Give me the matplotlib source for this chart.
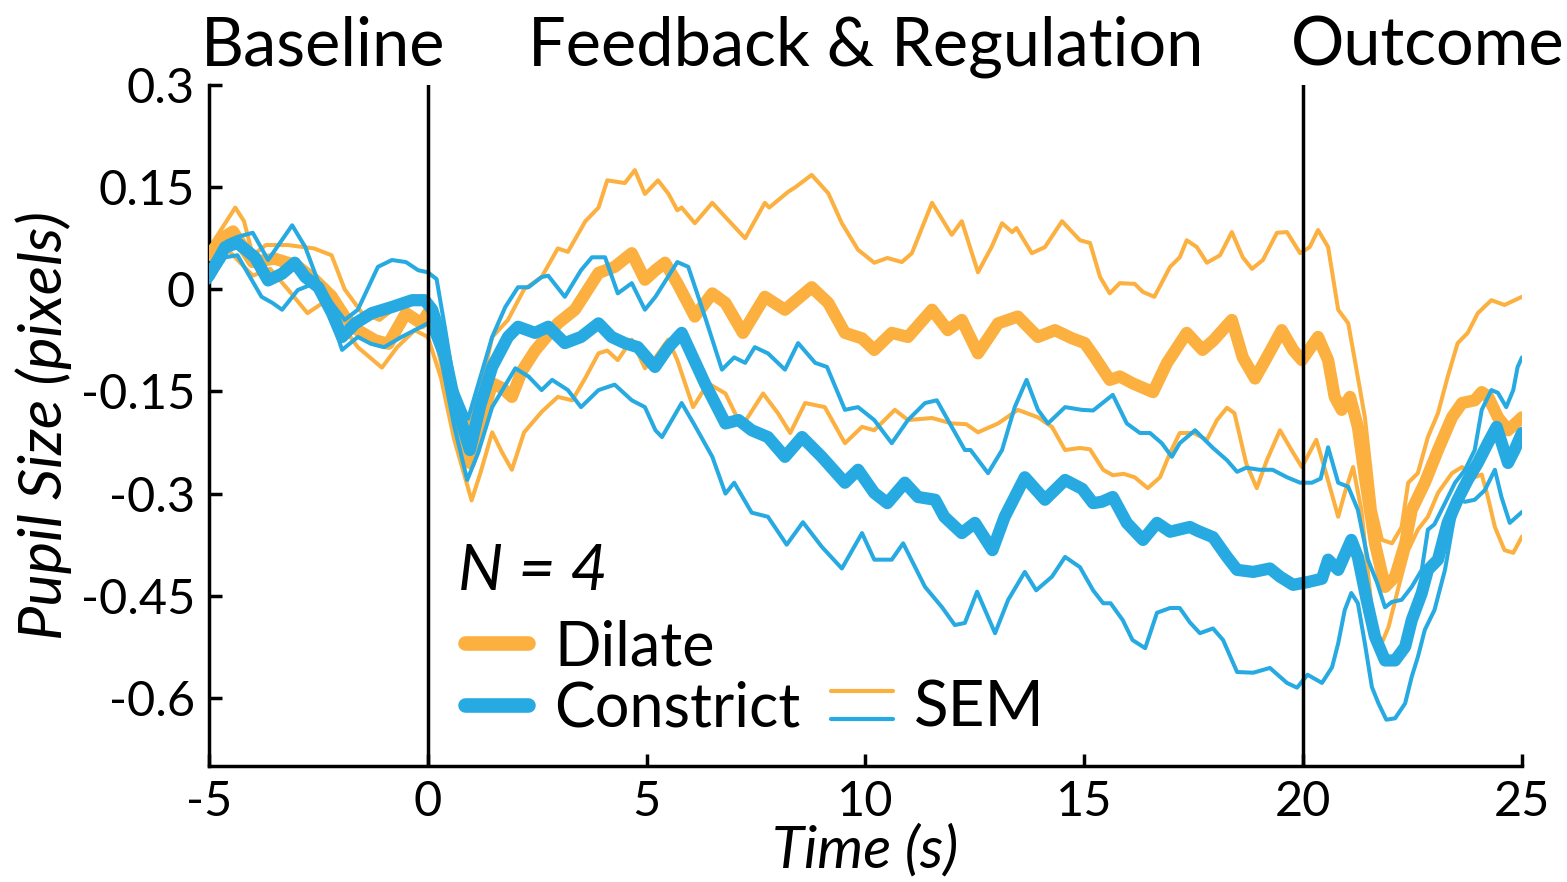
import matplotlib
matplotlib.use('Agg')
import matplotlib.pyplot as plt
from matplotlib.lines import Line2D

plt.rcParams['font.family'] = ['Lato', 'DejaVu Sans']

ORANGE = '#FBB040'
BLUE = '#27AAE1'

# ---------------- data (time in s, pupil size in pixels) ----------------
t_dil_up = [-5, -4.7, -4.4, -4.2, -4.0, -3.7, -3.2, -2.6, -2.2, -1.9, -1.5, -1.1, -0.5, -0.2, 0,
            0.3, 0.6, 0.92, 1.2, 1.47, 1.83, 2.2, 2.6, 2.97, 3.2, 3.6, 3.9, 4.1, 4.5, 4.73, 4.96,
            5.26, 5.5, 5.7, 5.8, 6.1, 6.5, 6.8, 7.25, 7.7, 7.8, 8.23, 8.4, 8.77, 9.15, 9.46, 9.83,
            10.2, 10.5, 10.83, 11.06, 11.52, 11.97, 12.2, 12.57, 12.88, 13.12, 13.35, 13.45, 13.8,
            14.1, 14.49, 14.9, 15.13, 15.36, 15.58, 15.81, 16.15, 16.34, 16.6, 16.96, 17.18, 17.34,
            17.57, 17.8, 18.1, 18.37, 18.62, 18.83, 19.08, 19.4, 19.63, 19.93, 20.15, 20.34, 20.57,
            20.8, 21.03, 21.18, 21.41, 21.64, 21.8, 22.03, 22.25, 22.4, 22.62, 22.85, 23.08, 23.3,
            23.53, 23.76, 23.99, 24.3, 24.6, 25]
dil_up = [0.06, 0.09, 0.12, 0.10, 0.05, 0.065, 0.065, 0.06, 0.05, 0.0, -0.035, -0.045, -0.015, -0.02, -0.025,
          -0.06, -0.14, -0.20, -0.15, -0.07, -0.045, 0.0, 0.018, 0.06, 0.055, 0.10, 0.12, 0.16, 0.156, 0.175, 0.14,
          0.16, 0.14, 0.116, 0.12, 0.097, 0.127, 0.106, 0.075, 0.127, 0.12, 0.143, 0.15, 0.168, 0.141, 0.097, 0.058,
          0.039, 0.046, 0.04, 0.053, 0.127, 0.08, 0.10, 0.025, 0.062, 0.097, 0.084, 0.09, 0.053,
          0.062, 0.10, 0.072, 0.068, 0.018, -0.006, 0.009, 0.008, -0.004, -0.011, 0.033, 0.047, 0.072,
          0.062, 0.039, 0.05, 0.084, 0.047, 0.03, 0.043, 0.083, 0.084, 0.053, 0.062, 0.087, 0.062,
          -0.03, -0.05, -0.104, -0.188, -0.324, -0.368, -0.373, -0.349, -0.284, -0.27, -0.217, -0.182, -0.129,
          -0.079, -0.064, -0.035, -0.016, -0.023, -0.011]

t_dil_mean = [-5, -4.7, -4.45, -4.0, -3.5, -3.0, -2.6, -2.2, -1.9, -1.6, -1.2, -0.9, -0.5, -0.15, 0,
              0.3, 0.6, 0.96, 1.2, 1.47, 1.7, 1.92, 2.15, 2.45, 2.97, 3.36, 3.9, 4.27, 4.66, 4.96, 5.2,
              5.42, 5.7, 6.1, 6.5, 6.8, 7.2, 7.7, 8.16, 8.77, 9.15, 9.53, 9.92, 10.2, 10.6, 10.97,
              11.52, 11.88, 12.2, 12.57, 13.03, 13.48, 13.94, 14.33, 14.72, 15.01, 15.24, 15.58, 15.81,
              16.1, 16.57, 16.89, 17.34, 17.7, 17.95, 18.37, 18.62, 18.9, 19.17, 19.51, 19.77, 19.97,
              20.34, 20.57, 20.72, 20.88, 21.07, 21.25, 21.41, 21.64, 21.87, 22.1, 22.33, 22.48, 22.78,
              23.08, 23.4, 23.63, 23.92, 24.08, 24.22, 24.45, 24.68, 25]
dil_mean = [0.05, 0.075, 0.085, 0.04, 0.045, 0.035, 0.015, -0.01, -0.04, -0.06, -0.075, -0.08, -0.035, -0.05, -0.035,
            -0.08, -0.17, -0.255, -0.2, -0.138, -0.145, -0.158, -0.12, -0.09, -0.05, -0.03, 0.024, 0.033, 0.053, 0.014, 0.028,
            0.039, 0.009, -0.04, -0.006, -0.02, -0.064, -0.011, -0.03, 0.003, -0.02, -0.064, -0.072, -0.089, -0.064, -0.07,
            -0.03, -0.06, -0.045, -0.094, -0.05, -0.04, -0.07, -0.06, -0.072, -0.079, -0.10, -0.133, -0.128,
            -0.138, -0.151, -0.108, -0.064, -0.089, -0.075, -0.045, -0.10, -0.131, -0.10, -0.06, -0.089, -0.104,
            -0.07, -0.104, -0.158, -0.177, -0.158, -0.202, -0.276, -0.373, -0.437, -0.422, -0.373, -0.324, -0.284,
            -0.236, -0.188, -0.167, -0.163, -0.151, -0.157, -0.188, -0.207, -0.188]

t_dil_lo = [-5, -4.6, -4.3, -4.0, -3.6, -3.2, -2.75, -2.4, -2.0, -1.6, -1.05, -0.7, -0.3, 0,
            0.3, 0.6, 1.0, 1.2, 1.47, 1.7, 1.92, 2.2, 2.6, 2.97, 3.3, 3.6, 3.9, 4.1, 4.34, 4.66, 4.96,
            5.2, 5.49, 5.7, 6.06, 6.4, 6.8, 7.17, 7.66, 8.0, 8.28, 8.62, 9.07, 9.53, 9.92, 10.2, 10.67,
            10.97, 11.52, 11.97, 12.3, 12.57, 13.03, 13.48, 13.94, 14.26, 14.56, 14.9, 15.13, 15.43, 15.65,
            15.9, 16.15, 16.45, 16.73, 16.96, 17.18, 17.5, 17.8, 18.03, 18.26, 18.43, 18.7, 18.94, 19.17,
            19.47, 19.77, 19.97, 20.3, 20.5, 20.8, 20.95, 21.14, 21.33, 21.57, 21.76, 21.95, 22.18, 22.4,
            22.62, 22.85, 23.08, 23.4, 23.63, 23.92, 24.08, 24.22, 24.38, 24.6, 24.8, 25]
dil_lo = [0.04, 0.06, 0.04, 0.02, 0.03, 0.0, -0.035, -0.02, -0.05, -0.085, -0.115, -0.085, -0.06, -0.07,
          -0.13, -0.22, -0.31, -0.27, -0.21, -0.24, -0.265, -0.21, -0.18, -0.158, -0.163, -0.13, -0.094, -0.09, -0.104, -0.074, -0.116,
          -0.10, -0.074, -0.104, -0.173, -0.138, -0.153, -0.202, -0.153, -0.182, -0.211, -0.167, -0.173, -0.226, -0.202, -0.207, -0.177,
          -0.192, -0.189, -0.197, -0.198, -0.21, -0.197, -0.177, -0.188, -0.202, -0.236, -0.233, -0.235, -0.265, -0.273,
          -0.271, -0.276, -0.292, -0.276, -0.24, -0.211, -0.211, -0.221, -0.192, -0.174, -0.182, -0.256, -0.292, -0.251,
          -0.207, -0.24, -0.261, -0.221, -0.265, -0.334, -0.299, -0.261, -0.324, -0.471, -0.525, -0.496, -0.437, -0.383,
          -0.353, -0.334, -0.299, -0.27, -0.261, -0.276, -0.272, -0.305, -0.349, -0.383, -0.387, -0.363]

t_con_up = [-5, -4.6, -4.35, -4.0, -3.65, -3.1, -2.8, -2.5, -2.2, -1.9, -1.6, -1.14, -0.82, -0.5, -0.22, 0,
            0.2, 0.4, 0.6, 0.92, 1.15, 1.47, 1.77, 2.06, 2.3, 2.6, 2.75, 3.13, 3.5, 3.75, 4.05, 4.34, 4.66,
            4.96, 5.2, 5.7, 5.95, 6.33, 6.72, 7.0, 7.25, 7.47, 7.77, 8.16, 8.46, 8.85, 9.12, 9.53, 9.83,
            10.2, 10.6, 10.97, 11.36, 11.63, 11.97, 12.27, 12.4, 12.8, 13.12, 13.41, 13.68, 13.94, 14.17,
            14.56, 14.94, 15.2, 15.65, 15.97, 16.27, 16.5, 16.77, 17.0, 17.18, 17.53, 17.94, 18.26, 18.49,
            18.7, 19.0, 19.3, 19.63, 19.93, 20.2, 20.4, 20.57, 20.8, 21.03, 21.25, 21.48, 21.69, 21.87,
            22.03, 22.25, 22.48, 22.71, 22.85, 23.0, 23.24, 23.47, 23.7, 23.92, 24.08, 24.3, 24.45, 24.64,
            24.8, 24.9, 25]
con_up = [0.03, 0.07, 0.077, 0.083, 0.043, 0.094, 0.062, 0.01, -0.02, -0.045, -0.03, 0.033, 0.043, 0.04, 0.028, 0.025,
          0.015, -0.06, -0.14, -0.19, -0.14, -0.07, -0.026, 0.003, 0.003, 0.018, 0.02, -0.011, 0.028, 0.047, 0.047, -0.006, 0.009,
          -0.03, -0.011, 0.04, 0.033, -0.04, -0.118, -0.10, -0.108, -0.085, -0.094, -0.118, -0.079, -0.108, -0.114, -0.177, -0.173,
          -0.192, -0.226, -0.192, -0.167, -0.163, -0.202, -0.236, -0.236, -0.27, -0.236, -0.173, -0.133, -0.177, -0.197,
          -0.173, -0.177, -0.178, -0.155, -0.197, -0.211, -0.211, -0.226, -0.246, -0.226, -0.207, -0.233, -0.251, -0.268,
          -0.262, -0.265, -0.265, -0.276, -0.284, -0.284, -0.278, -0.232, -0.284, -0.29, -0.324, -0.397, -0.431, -0.467,
          -0.459, -0.456, -0.437, -0.412, -0.353, -0.345, -0.314, -0.284, -0.265, -0.236, -0.177, -0.148, -0.152, -0.173,
          -0.148, -0.114, -0.10]

t_con_mean = [-5, -4.63, -4.35, -3.95, -3.65, -3.33, -3.04, -2.8, -2.5, -2.19, -1.96, -1.66, -1.28, -0.82, -0.36, -0.07,
              0.1, 0.3, 0.6, 0.96, 1.2, 1.47, 1.83, 2.06, 2.45, 2.75, 3.13, 3.5, 3.9, 4.2, 4.5, 4.8, 5.19, 5.5,
              5.8, 6.33, 6.8, 7.1, 7.4, 7.77, 8.16, 8.55, 9.0, 9.53, 9.83, 10.2, 10.5, 10.9, 11.2, 11.59, 11.8,
              12.2, 12.5, 12.9, 13.18, 13.64, 14.1, 14.56, 14.95, 15.2, 15.4, 15.65, 15.97, 16.34, 16.66, 16.96,
              17.41, 17.6, 17.94, 18.26, 18.49, 18.86, 19.24, 19.47, 19.77, 20.1, 20.43, 20.57, 20.8, 21.1, 21.25,
              21.45, 21.64, 21.87, 22.1, 22.33, 22.48, 22.71, 22.85, 23.08, 23.3, 23.53, 23.76, 23.99, 24.22,
              24.42, 24.68, 24.83, 25]
con_mean = [0.02, 0.062, 0.068, 0.047, 0.013, 0.023, 0.039, 0.018, 0.003, -0.035, -0.07, -0.05, -0.035, -0.026, -0.016, -0.016,
            -0.03, -0.07, -0.16, -0.236, -0.17, -0.114, -0.07, -0.055, -0.064, -0.055, -0.079, -0.07, -0.05, -0.07, -0.079, -0.085, -0.114, -0.085,
            -0.064, -0.138, -0.197, -0.192, -0.207, -0.217, -0.246, -0.217, -0.246, -0.284, -0.265, -0.299, -0.314, -0.284, -0.305, -0.309, -0.334,
            -0.358, -0.343, -0.383, -0.334, -0.276, -0.309, -0.28, -0.293, -0.314, -0.312, -0.305, -0.343, -0.368, -0.343, -0.356,
            -0.349, -0.355, -0.364, -0.393, -0.412, -0.415, -0.41, -0.422, -0.434, -0.43, -0.425, -0.397, -0.412, -0.368, -0.393,
            -0.456, -0.51, -0.545, -0.545, -0.525, -0.486, -0.446, -0.412, -0.397, -0.343, -0.309, -0.28, -0.255, -0.226,
            -0.202, -0.255, -0.236, -0.211]

t_con_lo = [-5, -4.63, -4.35, -3.8, -3.55, -3.33, -2.97, -2.58, -2.28, -1.96, -1.6, -1.3, -1.0, -0.6, -0.3, 0,
            0.3, 0.6, 0.9, 1.15, 1.47, 2.0, 2.3, 2.6, 2.84, 3.2, 3.5, 3.9, 4.27, 4.66, 4.96, 5.2, 5.35, 5.8,
            6.1, 6.5, 6.8, 7.0, 7.4, 7.77, 8.2, 8.57, 9.0, 9.46, 9.92, 10.2, 10.6, 10.86, 11.36, 11.75, 12.04,
            12.27, 12.55, 12.96, 13.26, 13.64, 13.9, 14.26, 14.56, 14.9, 15.2, 15.43, 15.6, 15.88, 16.1, 16.39,
            16.66, 16.96, 17.18, 17.41, 17.64, 17.94, 18.17, 18.49, 18.86, 19.24, 19.63, 19.86, 20.1, 20.43,
            20.66, 20.8, 20.95, 21.1, 21.25, 21.41, 21.57, 21.72, 21.9, 22.1, 22.33, 22.48, 22.62, 22.78, 23.0,
            23.24, 23.4, 23.53, 23.7, 23.92, 24.15, 24.38, 24.53, 24.72, 24.86, 25]
con_lo = [0.01, 0.047, 0.05, -0.011, -0.02, -0.03, -0.001, 0.009, -0.026, -0.089, -0.07, -0.08, -0.085, -0.07, -0.06, -0.05,
          -0.10, -0.2, -0.28, -0.24, -0.173, -0.116, -0.128, -0.148, -0.133, -0.148, -0.173, -0.148, -0.14, -0.163, -0.173, -0.207, -0.217, -0.167,
          -0.20, -0.246, -0.30, -0.284, -0.328, -0.334, -0.375, -0.342, -0.378, -0.41, -0.358, -0.397, -0.397, -0.373, -0.437, -0.467, -0.493,
          -0.49, -0.444, -0.505, -0.456, -0.415, -0.442, -0.422, -0.393, -0.408, -0.442, -0.461, -0.461, -0.486, -0.515, -0.527,
          -0.475, -0.468, -0.468, -0.489, -0.505, -0.498, -0.515, -0.562, -0.563, -0.556, -0.578, -0.585, -0.566, -0.578,
          -0.555, -0.52, -0.471, -0.446, -0.461, -0.52, -0.584, -0.608, -0.632, -0.63, -0.608, -0.569, -0.54, -0.50, -0.471,
          -0.412, -0.353, -0.309, -0.312, -0.309, -0.295, -0.265, -0.305, -0.343, -0.335, -0.327]

x_ticks = [-5, 0, 5, 10, 15, 20, 25]
x_ticklabels = ['-5', '0', '5', '10', '15', '20', '25']
y_ticks = [0.3, 0.15, 0, -0.15, -0.3, -0.45, -0.6]
y_ticklabels = ['0.3', '0.15', '0', '-0.15', '-0.3', '-0.45', '-0.6']
event_times = [0, 20]
phase_names = ['Baseline', 'Feedback & Regulation', 'Outcome']
phase_centers = [-2.4, 10.0, 22.85]

# ---------------- figure ----------------
W, H = 1567, 882
fig = plt.figure(figsize=(W / 100, H / 100), dpi=100)
ax = fig.add_axes([209 / W, 1 - 766 / H, 1313 / W, 681 / H])

thin = 2.9
thick = 8.8
kw = dict(solid_capstyle='round', solid_joinstyle='round')
ax.plot(t_dil_up, dil_up, color=ORANGE, lw=thin, zorder=2, **kw)
ax.plot(t_dil_lo, dil_lo, color=ORANGE, lw=thin, zorder=2, **kw)
ax.plot(t_dil_mean, dil_mean, color=ORANGE, lw=thick, zorder=3, **kw)
ax.plot(t_con_up, con_up, color=BLUE, lw=thin, zorder=4, **kw)
ax.plot(t_con_lo, con_lo, color=BLUE, lw=thin, zorder=4, **kw)
ax.plot(t_con_mean, con_mean, color=BLUE, lw=thick, zorder=5, **kw)

for xv in event_times:
    ax.axvline(xv, color='black', lw=2.5, zorder=6)

ax.set_xlim(-5, 25)
ax.set_ylim(-0.7, 0.3)
ax.set_xticks(x_ticks)
ax.set_xticklabels(x_ticklabels)
ax.set_yticks(y_ticks)
ax.set_yticklabels(y_ticklabels)

for s in ['top', 'right']:
    ax.spines[s].set_visible(False)
for s in ['left', 'bottom']:
    ax.spines[s].set_linewidth(2.5)
ax.tick_params(direction='in', length=9, width=2.5, labelsize=35, pad=10)

ax.set_xlabel('Time (s)', fontsize=42, style='italic', labelpad=0)
ax.set_ylabel('Pupil Size (pixels)', fontsize=44, style='italic', labelpad=6)

for name, xc in zip(phase_names, phase_centers):
    ax.text(xc, 0.328, name, ha='center', va='baseline', fontsize=48, clip_on=False)

# ---------------- legend (manual) ----------------
tr = ax.transAxes
ax.text(0.190, 0.258, 'N = 4', transform=tr, fontsize=46, style='italic', va='baseline', ha='left')
ax.add_line(Line2D([0.195, 0.243], [0.181, 0.181], transform=tr, color=ORANGE, lw=10.5, solid_capstyle='round'))
ax.add_line(Line2D([0.195, 0.243], [0.0896, 0.0896], transform=tr, color=BLUE, lw=10.5, solid_capstyle='round'))
ax.text(0.263, 0.148, 'Dilate', transform=tr, fontsize=44, va='baseline', ha='left')
ax.text(0.263, 0.0573, 'Constrict', transform=tr, fontsize=44, va='baseline', ha='left')
ax.add_line(Line2D([0.474, 0.521], [0.110, 0.110], transform=tr, color=ORANGE, lw=3, solid_capstyle='round'))
ax.add_line(Line2D([0.474, 0.521], [0.069, 0.069], transform=tr, color=BLUE, lw=3, solid_capstyle='round'))
ax.text(0.537, 0.0573, 'SEM', transform=tr, fontsize=46, va='baseline', ha='left')

fig.savefig('out.png', dpi=100, facecolor='white')
